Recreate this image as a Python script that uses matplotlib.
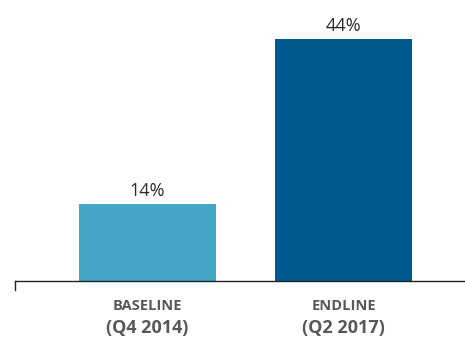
import matplotlib
matplotlib.use("Agg")
import matplotlib.pyplot as plt

# survey result, share of respondents
periods = ["BASELINE", "ENDLINE"]
quarters = ["(Q4 2014)", "(Q2 2017)"]
values = [14, 44]
colors = ["#44A6C6", "#005A8E"]

plt.rcParams['font.family'] = ['Open Sans', 'DejaVu Sans']

fig = plt.figure(figsize=(4.65, 3.37), dpi=100)
ax = fig.add_axes([15/465, 1 - 281/337, 450/465, 281/337])

x = range(len(values))
ax.bar(x, values, width=0.7, color=colors)
ax.set_xlim(-0.676, 1.62)
ax.set_ylim(0, 51.1)

for i, v in enumerate(values):
    ax.annotate(f"{v}%", (i, v), xytext=(0, 3), textcoords="offset points",
                ha="center", va="bottom", fontsize=13, color="#2a2a2a")
    ax.annotate(periods[i], (i, 0), xytext=(0, -18), textcoords="offset points",
                ha="center", va="center", fontsize=10.5, fontweight="bold",
                color="#585858", annotation_clip=False)
    ax.annotate(quarters[i], (i, 0), xytext=(0, -34), textcoords="offset points",
                ha="center", va="center", fontsize=13, fontweight="bold",
                color="#585858", annotation_clip=False)

for s in ["top", "right", "left"]:
    ax.spines[s].set_visible(False)
ax.spines["bottom"].set_color("#222222")
ax.spines["bottom"].set_linewidth(1)
ax.set_xticks([])
ax.set_yticks([])
# small tick at the left end of the baseline
ax.plot([-0.676, -0.676], [0, -1.7], color="#222222", lw=1, clip_on=False)

fig.savefig("out.png", dpi=100)
